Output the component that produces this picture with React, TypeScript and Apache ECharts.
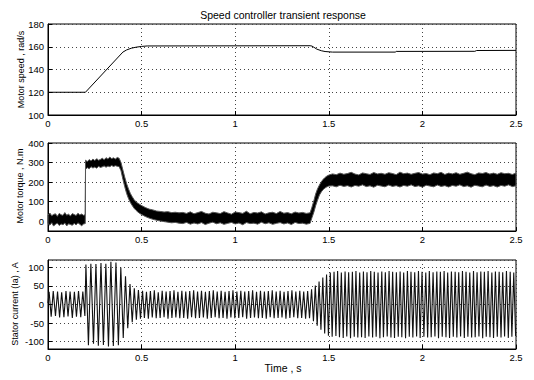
import React, { useEffect, useRef } from "react";
import * as echarts from "echarts";

const FONT = "'Liberation Sans', Arial, Helvetica, sans-serif";

const titleText = "Speed controller transient response";
const xAxisTitle = "Time , s";
const speedAxisTitle = "Motor speed , rad/s";
const torqueAxisTitle = "Motor torque , N.m";
const currentAxisTitle = "Stator current (Ia) , A";

// ---- Motor speed (rad/s) ----
const speedTime = [0, 0.2, 0.4, 0.42, 0.445, 0.47, 0.5, 0.53, 1.4, 1.41, 1.42, 1.436, 1.46, 1.48, 1.52, 1.855, 1.86, 2.28, 2.29, 2.5];
const speedValue = [120, 120, 155.3, 157.2, 158.7, 159.6, 160.3, 160.7, 160.9, 160.6, 159.6, 157.9, 156.5, 155.8, 155.3, 155.3, 155.9, 156.0, 156.7, 156.8];

// ---- Motor torque (N.m): noise band upper / lower edges ----
const torqueTime = [
  0, 0.01, 0.02, 0.03, 0.04, 0.05, 0.06, 0.07, 0.08, 0.09,
  0.10, 0.11, 0.12, 0.13, 0.14, 0.15, 0.16, 0.17, 0.18, 0.19, 0.199,
  0.2005, 0.21, 0.22, 0.23, 0.24, 0.25, 0.26, 0.27, 0.28, 0.29,
  0.30, 0.31, 0.32, 0.33, 0.34, 0.35, 0.36, 0.37, 0.38,
  0.39, 0.40, 0.41, 0.42, 0.43, 0.44, 0.45, 0.46, 0.47, 0.48, 0.49, 0.50,
  0.52, 0.54, 0.56, 0.58, 0.60, 0.62, 0.64, 0.66, 0.68, 0.70,
  0.72, 0.74, 0.76, 0.78, 0.80, 0.82, 0.84, 0.86, 0.88, 0.90,
  0.92, 0.94, 0.96, 0.98, 1.00, 1.02, 1.04, 1.06, 1.08, 1.10,
  1.12, 1.14, 1.16, 1.18, 1.20, 1.22, 1.24, 1.26, 1.28, 1.30,
  1.32, 1.34, 1.36, 1.38, 1.40,
  1.41, 1.42, 1.43, 1.44, 1.45, 1.46, 1.47, 1.48, 1.49, 1.50,
  1.52, 1.54, 1.56, 1.58, 1.60, 1.62, 1.64, 1.66, 1.68, 1.70,
  1.72, 1.74, 1.76, 1.78, 1.80, 1.82, 1.84, 1.86, 1.88, 1.90,
  1.92, 1.94, 1.96, 1.98, 2.00, 2.02, 2.04, 2.06, 2.08, 2.10,
  2.12, 2.14, 2.16, 2.18, 2.20, 2.22, 2.24, 2.26, 2.28, 2.30,
  2.32, 2.34, 2.36, 2.38, 2.40, 2.42, 2.44, 2.46, 2.48, 2.50,
];
const torqueUpper = [
  30, 42, 28, 35, 38, 25, 40, 33, 30, 44,
  31, 36, 27, 39, 34, 29, 41, 32, 37, 30, 34,
  312, 305, 315, 308, 318, 310, 320, 312, 316, 322,
  314, 325, 318, 328, 320, 324, 318, 326, 322,
  300, 262, 225, 192, 165, 142, 125, 110, 100, 92, 86, 80,
  70, 62, 58, 52, 50, 47, 49, 44, 46, 43,
  45, 40, 48, 38, 44, 50, 41, 37, 46, 43,
  39, 49, 42, 36, 47, 44, 40, 51, 38, 45,
  42, 48, 37, 43, 46, 39, 50, 41, 44, 38,
  47, 42, 45, 40, 43,
  72, 104, 140, 166, 185, 202, 214, 224, 231, 236,
  242, 238, 246, 240, 244, 250, 241, 237, 247, 243,
  239, 249, 242, 245, 240, 248, 244, 238, 251, 243,
  246, 240, 245, 249, 241, 244, 238, 247, 243, 250,
  239, 246, 242, 248, 240, 245, 251, 243, 238, 247,
  244, 249, 241, 246, 240, 248, 243, 245, 239, 246,
];
const torqueLower = [
  -12, -20, -8, -25, -15, -10, -22, -14, -18, -9,
  -24, -13, -17, -21, -11, -19, -8, -16, -23, -14, -12,
  265, 274, 268, 279, 272, 277, 271, 281, 275, 278,
  283, 276, 282, 279, 285, 280, 284, 281, 279,
  258, 215, 176, 142, 116, 96, 80, 66, 56, 47, 40, 34,
  24, 16, 10, 5, 1, -2, -5, -8, -6, -10,
  -12, -6, -15, -9, -14, -7, -17, -10, -5, -13,
  -8, -16, -11, -6, -14, -9, -18, -7, -12, -10,
  -15, -5, -13, -8, -16, -11, -7, -14, -9, -17,
  -6, -12, -10, -15, -11,
  18, 46, 80, 108, 134, 150, 162, 170, 176, 180,
  181, 176, 184, 178, 182, 175, 183, 179, 186, 177,
  181, 174, 184, 180, 176, 185, 178, 182, 175, 183,
  179, 186, 177, 181, 174, 184, 180, 176, 185, 178,
  182, 175, 183, 179, 186, 177, 181, 174, 184, 180,
  176, 185, 178, 182, 175, 183, 179, 186, 177, 181,
];

// ---- Stator current Ia (A): successive peaks and troughs ----
const currentTime = [
  0, 0.006, 0.017, 0.028, 0.040, 0.051, 0.062, 0.073, 0.085, 0.096,
  0.107, 0.118, 0.130, 0.141, 0.152, 0.163, 0.175, 0.186, 0.197,
  0.2025, 0.216, 0.229, 0.243, 0.256, 0.269, 0.283, 0.296, 0.309, 0.323,
  0.336, 0.349, 0.363, 0.376, 0.389, 0.402, 0.414, 0.426, 0.438, 0.450,
  0.461, 0.472, 0.483, 0.494,
  0.505, 0.515, 0.526, 0.536, 0.547, 0.557, 0.568, 0.578, 0.589, 0.599,
  0.610, 0.620, 0.631, 0.641, 0.652, 0.662, 0.673, 0.683, 0.694, 0.704,
  0.715, 0.725, 0.736, 0.746, 0.757, 0.767, 0.778, 0.788, 0.799, 0.809,
  0.820, 0.830, 0.841, 0.851, 0.862, 0.872, 0.883, 0.893, 0.904, 0.914,
  0.925, 0.935, 0.946, 0.956, 0.967, 0.977, 0.988, 0.998, 1.009, 1.019,
  1.030, 1.040, 1.051, 1.061, 1.072, 1.082, 1.093, 1.103, 1.114, 1.124,
  1.135, 1.145, 1.156, 1.166, 1.177, 1.187, 1.198, 1.208, 1.219, 1.229,
  1.240, 1.250, 1.261, 1.271, 1.282, 1.292, 1.303, 1.313, 1.324, 1.334,
  1.345, 1.355, 1.366, 1.376, 1.387, 1.397,
  1.408, 1.418, 1.428, 1.438, 1.448, 1.458, 1.468, 1.478, 1.488, 1.498, 1.508,
  1.518, 1.528, 1.538, 1.547, 1.557, 1.567, 1.577, 1.587, 1.596, 1.606,
  1.616, 1.626, 1.636, 1.645, 1.655, 1.665, 1.675, 1.685, 1.694, 1.704,
  1.714, 1.724, 1.734, 1.743, 1.753, 1.763, 1.773, 1.783, 1.792, 1.802,
  1.812, 1.822, 1.832, 1.841, 1.851, 1.861, 1.871, 1.881, 1.890, 1.900,
  1.910, 1.920, 1.930, 1.939, 1.949, 1.959, 1.969, 1.979, 1.988, 1.998,
  2.008, 2.018, 2.028, 2.037, 2.047, 2.057, 2.067, 2.077, 2.086, 2.096,
  2.106, 2.116, 2.126, 2.135, 2.145, 2.155, 2.165, 2.175, 2.184, 2.194,
  2.204, 2.214, 2.224, 2.233, 2.243, 2.253, 2.263, 2.273, 2.282, 2.292,
  2.302, 2.312, 2.322, 2.331, 2.341, 2.351, 2.361, 2.371, 2.380, 2.390,
  2.400, 2.410, 2.420, 2.429, 2.439, 2.449, 2.459, 2.469, 2.478, 2.488,
  2.498,
];
const currentValue = [
  4, 34, -33, 36, -31, 35, -35, 33, -34, 36,
  -32, 35, -36, 34, -33, 36, -34, 35, -31,
  108, -110, 110, -106, 109, -111, 112, -109, 110, -113,
  115, -112, 113, -110, 100, -90, 76, -64, 55, -48,
  44, -41, 39, -38,
  37, -36, 34, -38, 36, -35, 38, -37, 33, -36,
  37, -34, 35, -38, 36, -36, 38, -35, 34, -37,
  37, -36, 35, -38, 36, -34, 38, -37, 35, -36,
  37, -35, 34, -38, 36, -36, 38, -34, 35, -37,
  37, -36, 34, -38, 36, -35, 38, -37, 35, -36,
  37, -34, 35, -38, 36, -36, 38, -35, 34, -37,
  37, -36, 35, -38, 36, -34, 38, -37, 35, -36,
  37, -35, 34, -38, 36, -36, 38, -34, 35, -37,
  37, -36, 35, -38, 36, -37,
  41, -45, 51, -57, 62, -68, 73, -78, 81, -84, 86,
  -87, 88, -85, 90, -88, 86, -90, 89, -86, 87,
  -91, 88, -87, 90, -89, 86, -88, 89, -90, 87,
  -86, 90, -89, 88, -87, 86, -91, 89, -88, 87,
  -86, 90, -89, 88, -90, 87, -87, 89, -88, 86,
  -91, 90, -87, 88, -89, 87, -86, 90, -90, 88,
  -87, 86, -89, 90, -88, 87, -86, 89, -91, 88,
  -87, 90, -88, 86, -90, 89, -87, 88, -89, 87,
  -86, 90, -90, 88, -87, 86, -89, 90, -88, 87,
  -86, 89, -91, 88, -87, 90, -88, 86, -90, 89,
  -87, 88, -89, 87, -86, 90, -90, 88, -87, 86,
  -85,
];

// axis ranges / ticks
const timeMin = 0;
const timeMax = 2.5;
const timeStep = 0.5;
const speedMin = 100;
const speedMax = 180;
const speedStep = 20;
const torqueMin = -50;
const torqueMax = 400;
const currentMin = -120;
const currentMax = 120;

const GRID_LEFT = 48;
const GRID_WIDTH = 468;
const grids = [
  { top: 24, height: 91 },
  { top: 143, height: 88 },
  { top: 260, height: 89 },
];

const splitLineStyle = { show: true, lineStyle: { color: "#444", type: [1, 3] as any, width: 1 } };

function xAxisFor(gridIndex: number) {
  return {
    type: "value",
    gridIndex,
    min: timeMin,
    max: timeMax,
    interval: timeStep,
    axisLine: { show: true, onZero: false, lineStyle: { color: "#000", width: 1 } },
    axisTick: { show: true, inside: true, length: 4, lineStyle: { color: "#000" } },
    axisLabel: { color: "#000", fontSize: 9.5, fontFamily: FONT, margin: 3 },
    splitLine: splitLineStyle,
  };
}

function yAxisBase(gridIndex: number) {
  return {
    type: "value",
    gridIndex,
    axisLine: { show: true, onZero: false, lineStyle: { color: "#000", width: 1 } },
    axisTick: { show: true, inside: true, length: 4, lineStyle: { color: "#000" } },
    axisLabel: { color: "#000", fontSize: 9.5, fontFamily: FONT, margin: 4, showMinLabel: true, showMaxLabel: true },
    splitLine: splitLineStyle,
  };
}

export default function App() {
  const ref = useRef<HTMLDivElement>(null);

  useEffect(() => {
    if (!ref.current) return;
    const chart = echarts.init(ref.current, undefined, { renderer: "svg" });

    const speedData = speedTime.map((t, i) => [t, speedValue[i]]);
    const currentData = currentTime.map((t, i) => [t, currentValue[i]]);
    const torqueData = torqueTime.map((t, i) => [t, torqueLower[i], torqueUpper[i]]);

    const yS = yAxisBase(0);
    const yT = yAxisBase(1);
    const yC = yAxisBase(2);

    const option: any = {
      animation: false,
      backgroundColor: "#fff",
      textStyle: { fontFamily: FONT },
      grid: grids.map((g) => ({
        left: GRID_LEFT,
        width: GRID_WIDTH,
        top: g.top,
        height: g.height,
        show: true,
        borderColor: "#000",
        borderWidth: 1,
        backgroundColor: "transparent",
        containLabel: false,
      })),
      xAxis: [xAxisFor(0), xAxisFor(1), xAxisFor(2)],
      yAxis: [
        { ...yS, min: speedMin, max: speedMax, interval: speedStep },
        {
          ...yT,
          min: torqueMin,
          max: torqueMax,
          splitNumber: 5,
          axisLabel: { ...yT.axisLabel, showMinLabel: false },
        },
        {
          ...yC,
          min: currentMin,
          max: currentMax,
          splitNumber: 5,
          axisLabel: { ...yC.axisLabel, showMinLabel: false, showMaxLabel: false },
        },
      ],
      series: [
        {
          type: "line",
          xAxisIndex: 0,
          yAxisIndex: 0,
          data: speedData,
          showSymbol: false,
          symbol: "none",
          lineStyle: { color: "#000", width: 1 },
          silent: true,
        },
        {
          type: "custom",
          xAxisIndex: 1,
          yAxisIndex: 1,
          data: torqueData,
          encode: { x: 0, y: [1, 2] },
          silent: true,
          renderItem: (params: any, api: any) => {
            if (params.dataIndex !== 0) return null;
            const top = torqueTime.map((t, i) => api.coord([t, torqueUpper[i]]));
            const bottom = torqueTime.map((t, i) => api.coord([t, torqueLower[i]])).reverse();
            return {
              type: "polygon",
              shape: { points: top.concat(bottom) },
              style: { fill: "#000", stroke: "#555", lineWidth: 1 },
            };
          },
        },
        {
          type: "line",
          xAxisIndex: 2,
          yAxisIndex: 2,
          data: currentData,
          showSymbol: false,
          symbol: "none",
          lineStyle: { color: "#111", width: 1.1 },
          silent: true,
        },
      ],
      graphic: [
        {
          type: "text",
          x: 283,
          y: 14.5,
          style: { text: titleText, fontSize: 10.5, fontFamily: FONT, fill: "#000", align: "center", verticalAlign: "middle" },
        },
        {
          type: "text",
          x: 283,
          y: 368,
          style: { text: xAxisTitle, fontSize: 10.5, fontFamily: FONT, fill: "#000", align: "center", verticalAlign: "middle" },
        },
        {
          type: "text",
          x: 21,
          y: 69.5,
          rotation: Math.PI / 2,
          style: { text: speedAxisTitle, fontSize: 9, fontFamily: FONT, fill: "#000", align: "center", verticalAlign: "middle" },
        },
        {
          type: "text",
          x: 20,
          y: 186,
          rotation: Math.PI / 2,
          style: { text: torqueAxisTitle, fontSize: 9, fontFamily: FONT, fill: "#000", align: "center", verticalAlign: "middle" },
        },
        {
          type: "text",
          x: 15,
          y: 304,
          rotation: Math.PI / 2,
          style: { text: currentAxisTitle, fontSize: 9, fontFamily: FONT, fill: "#000", align: "center", verticalAlign: "middle" },
        },
      ],
    };

    chart.setOption(option);
    return () => chart.dispose();
  }, []);

  return (
    <div
      ref={ref}
      style={{ position: "fixed", left: 0, top: 0, width: 534, height: 380, background: "#fff" }}
    />
  );
}
